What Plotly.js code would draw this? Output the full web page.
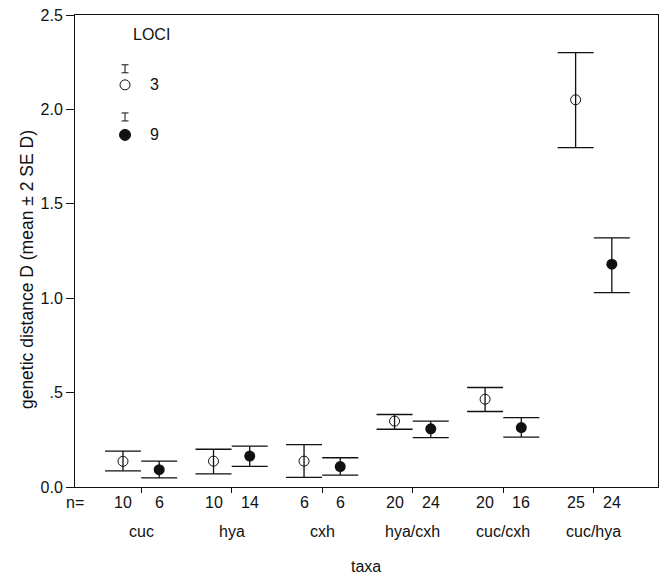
<!DOCTYPE html>
<html><head><meta charset="utf-8">
<script src="https://cdn.plot.ly/plotly-3.0.1.min.js"></script>
<style>body{margin:0;background:#fff}#chart{width:666px;height:577px}</style>
</head><body><div id="chart"></div>
<script>
const taxa = ['cuc','hya','cxh','hya/cxh','cuc/cxh','cuc/hya'];
const mean3 = [0.136,0.137,0.137,0.349,0.465,2.051];
const upper3 = [0.19,0.20,0.224,0.384,0.527,2.301];
const lower3 = [0.085,0.069,0.051,0.306,0.40,1.798];
const n3 = [10,10,6,20,20,25];
const mean9 = [0.092,0.164,0.108,0.308,0.315,1.18];
const upper9 = [0.137,0.217,0.155,0.349,0.367,1.32];
const lower9 = [0.048,0.109,0.063,0.262,0.264,1.03];
const n9 = [6,14,6,24,16,24];
const yTickVals = [0,0.5,1,1.5,2,2.5];
const yTickText = ['0.0','.5','1.0','1.5','2.0','2.5'];

const off = 0.2;
const x3 = taxa.map((t,i)=>i-off);
const x9 = taxa.map((t,i)=>i+off);
const font = {family:'Liberation Sans, Arial, sans-serif', size:16, color:'#111'};

const traces = [
 {x:x3, y:mean3, type:'scatter', mode:'markers', name:'3',
  marker:{symbol:'circle-open', size:10, color:'#111', line:{width:1}},
  error_y:{type:'data', symmetric:false, array:upper3.map((u,i)=>u-mean3[i]),
   arrayminus:mean3.map((m,i)=>m-lower3[i]), color:'#111', thickness:1.3, width:18}},
 {x:x9, y:mean9, type:'scatter', mode:'markers', name:'9',
  marker:{symbol:'circle', size:11, color:'#111'},
  error_y:{type:'data', symmetric:false, array:upper9.map((u,i)=>u-mean9[i]),
   arrayminus:mean9.map((m,i)=>m-lower9[i]), color:'#111', thickness:1.3, width:18}}
];

const ann = [];
taxa.forEach((t,i)=>{
  ann.push({x:i, y:-0.095, xref:'x', yref:'paper', text:t, showarrow:false, font:font, xanchor:'center', yanchor:'middle'});
  ann.push({x:x3[i], y:-0.032, xref:'x', yref:'paper', text:String(n3[i]), showarrow:false, font:font, xanchor:'center', yanchor:'middle'});
  ann.push({x:x9[i], y:-0.032, xref:'x', yref:'paper', text:String(n9[i]), showarrow:false, font:font, xanchor:'center', yanchor:'middle'});
});
ann.push({x:-0.019, y:-0.032, xref:'paper', yref:'paper', text:'n=', showarrow:false, font:font, yanchor:'middle', xanchor:'left'});
ann.push({x:0.499, y:-0.169, xref:'paper', yref:'paper', text:'taxa', showarrow:false, font:font, xanchor:'center', yanchor:'middle'});
ann.push({x:-0.082, y:0.46, xref:'paper', yref:'paper', text:'genetic distance D (mean ± 2 SE D)', textangle:-90,
  showarrow:false, font:{family:font.family, size:17.5, color:'#111'}, xanchor:'center', yanchor:'middle'});
ann.push({x:0.131, y:0.958, xref:'paper', yref:'paper', text:'LOCI', showarrow:false, font:font, yanchor:'middle', xanchor:'center'});
ann.push({x:0.137, y:0.852, xref:'paper', yref:'paper', text:'3', showarrow:false, font:font, yanchor:'middle', xanchor:'center'});
ann.push({x:0.137, y:0.746, xref:'paper', yref:'paper', text:'9', showarrow:false, font:font, yanchor:'middle', xanchor:'center'});

function px(xa, ya, x0, y0, x1, y1, extra){
  return Object.assign({xref:'paper', yref:'paper', xsizemode:'pixel', ysizemode:'pixel',
    xanchor:xa, yanchor:ya, x0:x0, x1:x1, y0:y0, y1:y1}, extra);
}
const lx = 0.0858;
const shapes = [
  px(lx,0.852,-5,-5,5,5,{type:'circle', line:{color:'#111', width:1}}),
  px(lx,0.746,-5.5,-5.5,5.5,5.5,{type:'circle', line:{color:'#111', width:1}, fillcolor:'#111'}),
];
[0.886,0.784].forEach(yy=>{
  shapes.push(px(lx,yy,0,-4,0,4,{type:'line', line:{color:'#111', width:1}}));
  shapes.push(px(lx,yy,-3.5,4,3.5,4,{type:'line', line:{color:'#111', width:1}}));
  shapes.push(px(lx,yy,-3.5,-4,3.5,-4,{type:'line', line:{color:'#111', width:1}}));
});

const layout = {
  width:666, height:577, margin:{l:75, r:8, t:15, b:90},
  paper_bgcolor:'#fff', plot_bgcolor:'#fff', showlegend:false, font:font,
  xaxis:{range:[-0.73,5.71], tickvals:[0,1,2,3,4,5], showticklabels:false, ticks:'outside', ticklen:5,
    tickcolor:'#111', showline:true, linecolor:'#111', linewidth:1, mirror:true, showgrid:false, zeroline:false},
  yaxis:{range:[0,2.5], tickvals:yTickVals, ticktext:yTickText, ticks:'outside', ticklen:8, tickcolor:'#111',
    showline:true, linecolor:'#111', linewidth:1, mirror:true, showgrid:false, zeroline:false,
    tickfont:font},
  annotations:ann, shapes:shapes
};
Plotly.newPlot('chart', traces, layout, {displayModeBar:false, staticPlot:true});
</script></body></html>
